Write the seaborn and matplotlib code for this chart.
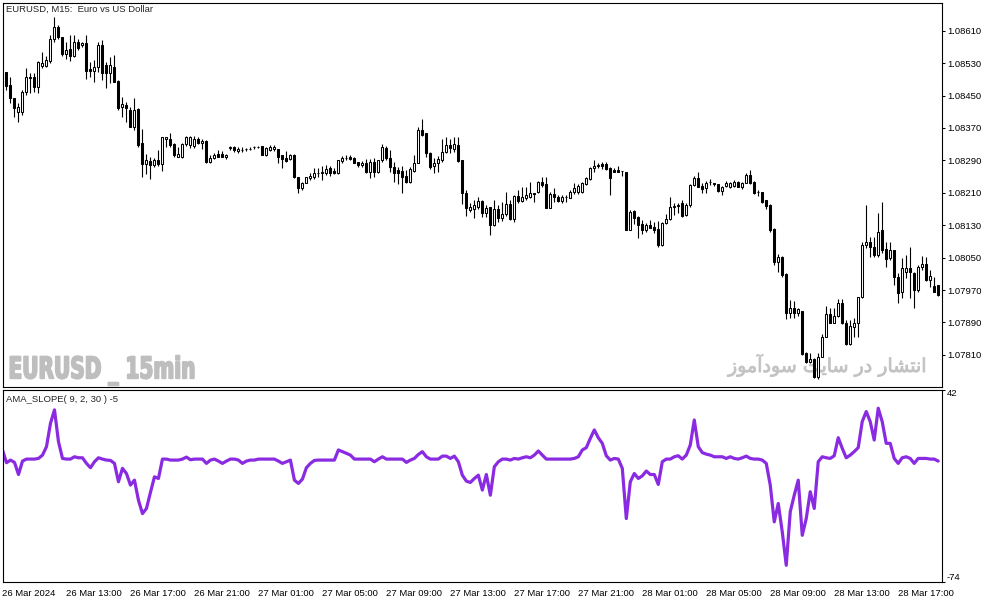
import numpy as np
import matplotlib
matplotlib.use("Agg")
import matplotlib.pyplot as plt
import seaborn as sns
from matplotlib import font_manager
from matplotlib.ft2font import FT2Font
from matplotlib.patheffects import AbstractPathEffect
from matplotlib.transforms import Affine2D

# ---------------- data (EURUSD M15, 26 Mar 09:00 -> 28 Mar 19:30) ----------------
open_ = [
    1.08508, 1.08508, 1.08476, 1.08444, 1.08409, 1.08409, 1.08459, 1.08496, 1.08496, 1.08471,
    1.08523, 1.08523, 1.08535, 1.08590, 1.08619, 1.08595, 1.08553, 1.08565, 1.08548, 1.08582,
    1.08575, 1.08580, 1.08516, 1.08511, 1.08521, 1.08575, 1.08525, 1.08506, 1.08521, 1.08486,
    1.08422, 1.08427, 1.08414, 1.08372, 1.08417, 1.08333, 1.08281, 1.08288, 1.08279, 1.08291,
    1.08281, 1.08343, 1.08343, 1.08330, 1.08298, 1.08298, 1.08330, 1.08328, 1.08325, 1.08343,
    1.08333, 1.08338, 1.08286, 1.08296, 1.08306, 1.08306, 1.08298, 1.08321, 1.08323, 1.08313,
    1.08316, 1.08318, 1.08318, 1.08323, 1.08323, 1.08325, 1.08303, 1.08316, 1.08318, 1.08318,
    1.08303, 1.08296, 1.08293, 1.08303, 1.08249, 1.08222, 1.08234, 1.08246, 1.08249, 1.08259,
    1.08259, 1.08259, 1.08271, 1.08264, 1.08259, 1.08288, 1.08296, 1.08298, 1.08296, 1.08286,
    1.08279, 1.08284, 1.08261, 1.08286, 1.08261, 1.08291, 1.08321, 1.08296, 1.08274, 1.08266,
    1.08264, 1.08251, 1.08237, 1.08264, 1.08284, 1.08365, 1.08358, 1.08308, 1.08276, 1.08284,
    1.08291, 1.08311, 1.08328, 1.08318, 1.08328, 1.08291, 1.08209, 1.08167, 1.08170, 1.08175,
    1.08190, 1.08160, 1.08175, 1.08130, 1.08170, 1.08148, 1.08158, 1.08182, 1.08145, 1.08202,
    1.08190, 1.08197, 1.08200, 1.08209, 1.08212, 1.08237, 1.08232, 1.08172, 1.08207, 1.08200,
    1.08190, 1.08200, 1.08197, 1.08212, 1.08212, 1.08212, 1.08232, 1.08244, 1.08271, 1.08276,
    1.08281, 1.08281, 1.08271, 1.08266, 1.08266, 1.08264, 1.08261, 1.08118, 1.08165, 1.08150,
    1.08133, 1.08118, 1.08130, 1.08125, 1.08121, 1.08081, 1.08135, 1.08145, 1.08175, 1.08180,
    1.08185, 1.08155, 1.08180, 1.08229, 1.08246, 1.08227, 1.08222, 1.08237, 1.08234, 1.08232,
    1.08214, 1.08227, 1.08224, 1.08227, 1.08237, 1.08224, 1.08234, 1.08254, 1.08237, 1.08212,
    1.08212, 1.08192, 1.08180, 1.08121, 1.08039, 1.08051, 1.08010, 1.07913, 1.07926, 1.07913,
    1.07918, 1.07814, 1.07792, 1.07800, 1.07755, 1.07805, 1.07854, 1.07911, 1.07888, 1.07906,
    1.07938, 1.07888, 1.07837, 1.07879, 1.07888, 1.07953, 1.08081, 1.08089, 1.08076, 1.08056,
    1.08118, 1.08071, 1.08049, 1.08069, 1.08002, 1.07965, 1.08014, 1.08024, 1.08012, 1.07970,
    1.08027, 1.08034, 1.07995, 1.07980, 1.07982,
]
high = [
    1.08513, 1.08508, 1.08496, 1.08444, 1.08432, 1.08464, 1.08518, 1.08506, 1.08506, 1.08535,
    1.08558, 1.08548, 1.08600, 1.08644, 1.08624, 1.08595, 1.08582, 1.08600, 1.08600, 1.08590,
    1.08582, 1.08600, 1.08533, 1.08538, 1.08582, 1.08587, 1.08533, 1.08545, 1.08550, 1.08488,
    1.08446, 1.08434, 1.08422, 1.08444, 1.08419, 1.08367, 1.08306, 1.08298, 1.08296, 1.08316,
    1.08348, 1.08348, 1.08358, 1.08333, 1.08323, 1.08333, 1.08350, 1.08350, 1.08350, 1.08348,
    1.08343, 1.08340, 1.08303, 1.08308, 1.08316, 1.08313, 1.08306, 1.08325, 1.08325, 1.08323,
    1.08323, 1.08321, 1.08323, 1.08325, 1.08325, 1.08325, 1.08323, 1.08328, 1.08328, 1.08318,
    1.08303, 1.08313, 1.08306, 1.08306, 1.08249, 1.08237, 1.08249, 1.08259, 1.08271, 1.08271,
    1.08276, 1.08279, 1.08276, 1.08271, 1.08291, 1.08301, 1.08303, 1.08303, 1.08298, 1.08286,
    1.08288, 1.08293, 1.08293, 1.08296, 1.08291, 1.08330, 1.08325, 1.08316, 1.08286, 1.08274,
    1.08276, 1.08266, 1.08274, 1.08303, 1.08372, 1.08392, 1.08358, 1.08311, 1.08296, 1.08301,
    1.08343, 1.08348, 1.08343, 1.08348, 1.08348, 1.08291, 1.08217, 1.08185, 1.08192, 1.08200,
    1.08192, 1.08180, 1.08175, 1.08192, 1.08180, 1.08187, 1.08212, 1.08192, 1.08204, 1.08217,
    1.08224, 1.08224, 1.08237, 1.08209, 1.08239, 1.08249, 1.08249, 1.08212, 1.08222, 1.08204,
    1.08204, 1.08204, 1.08217, 1.08234, 1.08232, 1.08237, 1.08249, 1.08274, 1.08291, 1.08284,
    1.08286, 1.08286, 1.08274, 1.08271, 1.08276, 1.08264, 1.08261, 1.08167, 1.08167, 1.08153,
    1.08143, 1.08135, 1.08143, 1.08138, 1.08140, 1.08138, 1.08158, 1.08200, 1.08185, 1.08185,
    1.08192, 1.08185, 1.08232, 1.08251, 1.08261, 1.08234, 1.08239, 1.08244, 1.08234, 1.08232,
    1.08227, 1.08239, 1.08237, 1.08242, 1.08239, 1.08237, 1.08259, 1.08266, 1.08239, 1.08217,
    1.08212, 1.08192, 1.08182, 1.08123, 1.08059, 1.08054, 1.08012, 1.07945, 1.07943, 1.07926,
    1.07918, 1.07817, 1.07814, 1.07802, 1.07814, 1.07861, 1.07930, 1.07926, 1.07926, 1.07948,
    1.07948, 1.07896, 1.07896, 1.07901, 1.07953, 1.08089, 1.08180, 1.08101, 1.08101, 1.08160,
    1.08187, 1.08089, 1.08089, 1.08069, 1.08012, 1.08049, 1.08056, 1.08076, 1.08014, 1.08032,
    1.08054, 1.08051, 1.08019, 1.08002, 1.07982,
]
low = [
    1.08503, 1.08464, 1.08432, 1.08397, 1.08385, 1.08402, 1.08451, 1.08456, 1.08459, 1.08456,
    1.08518, 1.08521, 1.08530, 1.08582, 1.08590, 1.08548, 1.08540, 1.08535, 1.08545, 1.08563,
    1.08570, 1.08491, 1.08496, 1.08484, 1.08508, 1.08488, 1.08469, 1.08481, 1.08484, 1.08414,
    1.08397, 1.08385, 1.08372, 1.08365, 1.08323, 1.08249, 1.08256, 1.08244, 1.08274, 1.08276,
    1.08264, 1.08323, 1.08323, 1.08298, 1.08298, 1.08296, 1.08325, 1.08321, 1.08321, 1.08330,
    1.08318, 1.08284, 1.08284, 1.08293, 1.08298, 1.08298, 1.08293, 1.08316, 1.08311, 1.08308,
    1.08311, 1.08313, 1.08316, 1.08318, 1.08321, 1.08303, 1.08301, 1.08313, 1.08313, 1.08284,
    1.08271, 1.08286, 1.08291, 1.08246, 1.08209, 1.08217, 1.08234, 1.08242, 1.08244, 1.08249,
    1.08242, 1.08254, 1.08251, 1.08256, 1.08256, 1.08284, 1.08291, 1.08291, 1.08284, 1.08274,
    1.08274, 1.08259, 1.08246, 1.08249, 1.08259, 1.08286, 1.08291, 1.08261, 1.08237, 1.08232,
    1.08209, 1.08234, 1.08234, 1.08261, 1.08284, 1.08350, 1.08298, 1.08269, 1.08259, 1.08261,
    1.08286, 1.08308, 1.08308, 1.08311, 1.08286, 1.08182, 1.08153, 1.08163, 1.08148, 1.08170,
    1.08150, 1.08150, 1.08106, 1.08128, 1.08138, 1.08140, 1.08153, 1.08143, 1.08138, 1.08185,
    1.08187, 1.08192, 1.08197, 1.08187, 1.08209, 1.08224, 1.08172, 1.08172, 1.08187, 1.08187,
    1.08185, 1.08187, 1.08197, 1.08207, 1.08207, 1.08209, 1.08229, 1.08242, 1.08261, 1.08271,
    1.08269, 1.08266, 1.08204, 1.08261, 1.08261, 1.08251, 1.08118, 1.08118, 1.08133, 1.08098,
    1.08108, 1.08113, 1.08123, 1.08111, 1.08076, 1.08079, 1.08133, 1.08143, 1.08155, 1.08160,
    1.08150, 1.08153, 1.08175, 1.08227, 1.08224, 1.08209, 1.08209, 1.08229, 1.08227, 1.08212,
    1.08204, 1.08224, 1.08222, 1.08224, 1.08224, 1.08219, 1.08234, 1.08232, 1.08207, 1.08202,
    1.08185, 1.08170, 1.08113, 1.08032, 1.08014, 1.08002, 1.07898, 1.07901, 1.07901, 1.07906,
    1.07809, 1.07790, 1.07790, 1.07753, 1.07750, 1.07805, 1.07854, 1.07888, 1.07888, 1.07903,
    1.07886, 1.07834, 1.07834, 1.07854, 1.07854, 1.07950, 1.08074, 1.08051, 1.08051, 1.08051,
    1.08061, 1.08027, 1.08044, 1.07982, 1.07938, 1.07950, 1.08000, 1.07950, 1.07926, 1.07965,
    1.08019, 1.07992, 1.07977, 1.07965, 1.07955,
]
close = [
    1.08508, 1.08474, 1.08444, 1.08419, 1.08422, 1.08459, 1.08496, 1.08493, 1.08471, 1.08533,
    1.08530, 1.08538, 1.08590, 1.08619, 1.08595, 1.08553, 1.08563, 1.08548, 1.08582, 1.08567,
    1.08580, 1.08511, 1.08511, 1.08521, 1.08575, 1.08506, 1.08506, 1.08525, 1.08484, 1.08419,
    1.08429, 1.08419, 1.08372, 1.08414, 1.08328, 1.08281, 1.08291, 1.08279, 1.08291, 1.08281,
    1.08348, 1.08348, 1.08328, 1.08303, 1.08306, 1.08330, 1.08348, 1.08348, 1.08343, 1.08333,
    1.08338, 1.08286, 1.08296, 1.08303, 1.08298, 1.08298, 1.08303, 1.08323, 1.08316, 1.08318,
    1.08316, 1.08318, 1.08318, 1.08323, 1.08323, 1.08303, 1.08321, 1.08323, 1.08323, 1.08298,
    1.08293, 1.08288, 1.08303, 1.08249, 1.08222, 1.08234, 1.08249, 1.08251, 1.08259, 1.08259,
    1.08261, 1.08269, 1.08259, 1.08259, 1.08291, 1.08296, 1.08296, 1.08293, 1.08284, 1.08279,
    1.08284, 1.08261, 1.08286, 1.08261, 1.08291, 1.08323, 1.08296, 1.08274, 1.08259, 1.08259,
    1.08249, 1.08237, 1.08269, 1.08284, 1.08365, 1.08353, 1.08308, 1.08274, 1.08284, 1.08293,
    1.08311, 1.08328, 1.08321, 1.08330, 1.08288, 1.08209, 1.08172, 1.08175, 1.08180, 1.08190,
    1.08160, 1.08172, 1.08130, 1.08170, 1.08148, 1.08158, 1.08182, 1.08145, 1.08202, 1.08190,
    1.08200, 1.08204, 1.08209, 1.08207, 1.08237, 1.08229, 1.08172, 1.08207, 1.08200, 1.08190,
    1.08200, 1.08200, 1.08212, 1.08222, 1.08227, 1.08234, 1.08246, 1.08271, 1.08276, 1.08279,
    1.08276, 1.08269, 1.08246, 1.08261, 1.08261, 1.08264, 1.08118, 1.08163, 1.08148, 1.08130,
    1.08118, 1.08130, 1.08123, 1.08118, 1.08081, 1.08135, 1.08145, 1.08175, 1.08177, 1.08177,
    1.08153, 1.08180, 1.08229, 1.08246, 1.08224, 1.08219, 1.08234, 1.08237, 1.08232, 1.08214,
    1.08224, 1.08234, 1.08234, 1.08237, 1.08224, 1.08234, 1.08254, 1.08234, 1.08209, 1.08212,
    1.08187, 1.08177, 1.08118, 1.08039, 1.08051, 1.08007, 1.07913, 1.07926, 1.07913, 1.07923,
    1.07812, 1.07792, 1.07800, 1.07755, 1.07805, 1.07854, 1.07911, 1.07888, 1.07906, 1.07938,
    1.07888, 1.07837, 1.07881, 1.07888, 1.07953, 1.08081, 1.08089, 1.08076, 1.08056, 1.08113,
    1.08069, 1.08047, 1.08069, 1.08002, 1.07963, 1.08024, 1.08024, 1.08014, 1.07970, 1.08027,
    1.08034, 1.07995, 1.08005, 1.07965, 1.07958,
]
ama_slope = [
    5.5, -2.2, -0.6, -2.0, -9.3, -1.2, 0.0, 0.0, 0.0, 0.4,
    2.4, 7.5, 21.6, 29.7, 10.5, 0.4, 0.0, 0.0, 1.4, 0.8,
    0.8, -2.6, -5.2, -1.6, 0.8, 0.0, -0.6, -0.8, -2.6, -13.7,
    -5.6, -8.7, -15.7, -12.7, -24.8, -32.9, -29.8, -20.1, -10.7, -11.7,
    0.0, 0.0, -0.6, -0.6, -0.6, 0.0, 1.2, -0.4, 0.0, 0.0,
    0.0, -2.6, -0.6, 0.0, -1.2, -2.6, -1.2, 0.0, 0.0, -0.6,
    -2.6, -1.2, -0.6, -0.6, 0.0, 0.0, 0.0, 0.0, 0.0, -1.2,
    -2.6, -1.6, -0.6, -12.7, -14.7, -12.1, -5.2, -2.6, -0.8, -0.6,
    -0.6, -0.6, -0.6, -0.6, 5.5, 4.5, 3.5, 2.4, 0.0, 0.0,
    0.0, 0.0, 0.0, -1.6, 0.0, 1.4, 0.0, 0.0, 0.0, 0.0,
    0.0, -2.0, -0.6, 0.4, 2.8, 4.5, 1.4, 0.0, 0.0, 0.0,
    1.8, 1.8, 0.4, 1.8, -1.6, -9.7, -13.3, -14.1, -11.7, -9.7,
    -18.7, -9.3, -21.8, -4.6, -1.6, 0.0, 0.0, -0.6, 0.4, 0.0,
    0.8, 1.4, 0.8, 2.4, 4.9, 2.4, 0.0, 0.0, 0.0, 0.0,
    0.0, 0.0, 0.0, 0.4, 1.4, 5.5, 6.9, 12.5, 17.6, 12.9,
    9.5, 2.0, -0.6, 0.4, 0.0, -5.6, -35.9, -13.7, -8.7, -11.7,
    -10.1, -7.2, -9.3, -9.3, -15.3, -1.6, 0.0, 0.0, 1.4, 2.0,
    0.0, 2.4, 8.5, 23.6, 7.5, 3.9, 3.0, 2.4, 1.4, 1.4,
    1.4, 0.4, 1.4, 0.4, 0.0, 0.8, 1.8, 0.4, 0.0, 0.0,
    -0.6, -2.6, -15.7, -37.9, -26.8, -43.9, -64.1, -31.8, -21.8, -12.7,
    -46.0, -35.9, -19.7, -29.8, -1.6, 1.4, 0.8, 0.4, 2.0, 12.9,
    6.5, 0.8, 2.4, 4.5, 6.9, 22.6, 28.7, 22.6, 11.5, 30.7,
    22.6, 9.5, 9.5, 0.4, -2.6, 0.8, 1.4, 0.4, -2.6, 0.4,
    0.4, 0.4, 0.0, 0.0, -1.2,
]
price_ticks = [1.07810, 1.07890, 1.07970, 1.08050, 1.08130, 1.08210,
               1.08290, 1.08370, 1.08450, 1.08530, 1.08610]
ama_ticks = [-74, 42]
date_tick_bars = [0, 16, 32, 48, 64, 80, 96, 112, 128, 144, 160, 176, 192, 208, 224]
date_labels = ["26 Mar 2024", "26 Mar 13:00", "26 Mar 17:00", "26 Mar 21:00",
               "27 Mar 01:00", "27 Mar 05:00", "27 Mar 09:00", "27 Mar 13:00",
               "27 Mar 17:00", "27 Mar 21:00", "28 Mar 01:00", "28 Mar 05:00",
               "28 Mar 09:00", "28 Mar 13:00", "28 Mar 17:00"]
title_text = "EURUSD, M15:  Euro vs US Dollar"
ind_text = "AMA_SLOPE( 9, 2, 30 ) -5"
wm_left = "EURUSD _ 15min"
wm_right = "انتشار در سایت سودآموز"

# ---------------- style ----------------
sns.set_style("white")
plt.rcParams["font.family"] = ["Liberation Sans", "DejaVu Sans"]
FS = 6.8

W, H = 994, 603
fig = plt.figure(figsize=(W / 100, H / 100), dpi=100)
fig.patch.set_facecolor("white")


def rect(l, t, r, b):
    return [l / W, 1 - b / H, (r - l) / W, (b - t) / H]


ax = fig.add_axes(rect(2.5, 2.5, 941.5, 386.5))
ax2 = fig.add_axes(rect(2.5, 389.5, 941.5, 581.7))

o = np.array(open_)
hh = np.array(high)
ll = np.array(low)
c = np.array(close)
xb = np.arange(len(o))

# ---------------- candles ----------------
ax.vlines(xb, ll, hh, colors="black", linewidth=0.8, zorder=2)
bull = c >= o
ax.bar(xb, np.abs(c - o), bottom=np.minimum(o, c), width=0.5,
       color=np.where(bull, "white", "black"), edgecolor="black",
       linewidth=0.75, zorder=3)

XL = (0.075, 234.825)
ax.set_xlim(*XL)
ax.set_ylim(1.077318, 1.086798)
ax.set_xticks([])
ax.yaxis.tick_right()
ax.set_yticks(price_ticks)
ax.set_yticklabels([f"{t:.5f}" for t in price_ticks])
ax.tick_params(axis="y", direction="out", length=2.5, width=0.75, pad=1.5,
               labelsize=FS, colors="black")
for s in ax.spines.values():
    s.set_color("black")
    s.set_linewidth(0.8)

# ---------------- indicator ----------------
sns.lineplot(x=xb, y=np.array(ama_slope), ax=ax2, color="#8A2BE2",
             linewidth=2.3, legend=False)
ax2.set_xlim(*XL)
ax2.set_ylim(-74, 42)
ax2.set_xlabel("")
ax2.set_ylabel("")
ax2.yaxis.tick_right()
ax2.set_yticks(ama_ticks)
ax2.set_yticklabels([str(v) for v in ama_ticks])
ax2.tick_params(axis="y", direction="out", length=2.5, width=0.75, pad=1.5,
                labelsize=FS, colors="black")
for lbl in ax2.get_yticklabels():
    lbl.set_va("bottom" if lbl.get_text().startswith("-") else "top")
ax2.set_xticks(date_tick_bars)
ax2.set_xticklabels(date_labels, ha="left")
ax2.tick_params(axis="x", direction="out", length=4, width=0.75, pad=1.0,
                labelsize=FS, colors="black")
for s in ax2.spines.values():
    s.set_color("black")
    s.set_linewidth(0.8)

# ---------------- texts ----------------
fig.text(6 / W, 1 - 9 / H, title_text, ha="left", va="center", fontsize=FS)
fig.text(6 / W, 1 - 399 / H, ind_text, ha="left", va="center", fontsize=FS)


def ax_xy(px, py):
    return (px - 2.5) / 939.0, (386.5 - py) / 384.0


class HScale(AbstractPathEffect):
    """Draw text glyphs compressed horizontally about display x0, slightly emboldened."""

    def __init__(self, sx, x0, stroke):
        super().__init__()
        self.sx, self.x0, self.stroke = sx, x0, stroke

    def draw_path(self, renderer, gc, tpath, affine, rgbFace=None):
        t = affine + Affine2D().translate(-self.x0, 0).scale(self.sx, 1.0).translate(self.x0, 0)
        gc0 = renderer.new_gc()
        gc0.copy_properties(gc)
        if rgbFace is not None and self.stroke > 0:
            gc0.set_foreground(rgbFace)
            gc0.set_linewidth(self.stroke)
            gc0.set_joinstyle("round")
        renderer.draw_path(gc0, tpath, t, rgbFace)
        gc0.restore()


wm = ax.text(*ax_xy(8.5, 378.3), wm_left, transform=ax.transAxes, ha="left",
             va="baseline", fontsize=21.5, fontweight="bold",
             family=["DejaVu Sans"], color="#BEBEBE", zorder=0)
fig.canvas.draw()
bb = wm.get_window_extent(renderer=fig.canvas.get_renderer())
wm.set_path_effects([HScale((196 - 9) / bb.width, bb.x0, 1.3)])

# Persian text: contextual shaping into presentation forms, visual order
dv_path = font_manager.findfont("DejaVu Sans")
try:
    has_fy = FT2Font(dv_path).get_char_index(0xFBFE) != 0
except Exception:
    has_fy = False
FORMS = {  # isolated, final, initial, medial
    "ا": ("\uFE8D", "\uFE8E", None, None),
    "آ": ("\uFE81", "\uFE82", None, None),
    "ن": ("\uFEE5", "\uFEE6", "\uFEE7", "\uFEE8"),
    "ت": ("\uFE95", "\uFE96", "\uFE97", "\uFE98"),
    "ش": ("\uFEB5", "\uFEB6", "\uFEB7", "\uFEB8"),
    "ر": ("\uFEAD", "\uFEAE", None, None),
    "د": ("\uFEA9", "\uFEAA", None, None),
    "س": ("\uFEB1", "\uFEB2", "\uFEB3", "\uFEB4"),
    "ی": (("\uFBFC", "\uFBFD", "\uFBFE", "\uFBFF") if has_fy
          else ("\uFEEF", "\uFEF0", "\uFEF3", "\uFEF4")),
    "و": ("\uFEED", "\uFEEE", None, None),
    "م": ("\uFEE1", "\uFEE2", "\uFEE3", "\uFEE4"),
    "ز": ("\uFEAF", "\uFEB0", None, None),
}


def shape(text):
    out = []
    for k, ch in enumerate(text):
        if ch not in FORMS:
            out.append(ch)
            continue
        prev = text[k - 1] if k > 0 else " "
        nxt = text[k + 1] if k + 1 < len(text) else " "
        jp = prev in FORMS and FORMS[prev][2] is not None
        jn = nxt in FORMS and FORMS[ch][2] is not None
        iso, fin, ini, med = FORMS[ch]
        out.append(med if (jp and jn) else fin if jp else ini if jn else iso)
    return "".join(reversed(out))


pt = ax.text(*ax_xy(927, 372), shape(wm_right), transform=ax.transAxes, ha="right",
             va="baseline", fontsize=13.7, family=["DejaVu Sans"], color="#C2C2C2",
             zorder=0)
fig.canvas.draw()
pb = pt.get_window_extent(renderer=fig.canvas.get_renderer())
pt.set_path_effects([HScale(1.0, pb.x1, 0.6)])

fig.savefig("out.png", dpi=100, facecolor="white")
